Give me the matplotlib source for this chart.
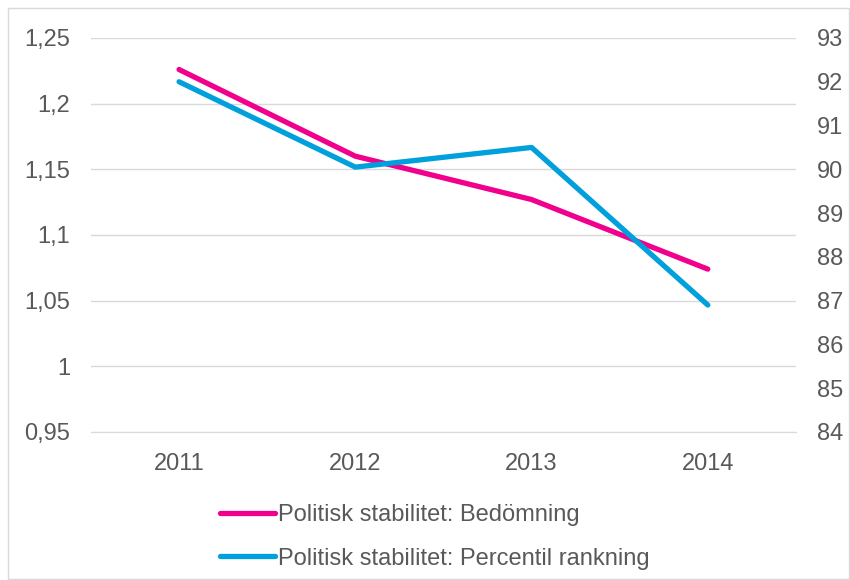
import numpy as np
import matplotlib
matplotlib.use("Agg")
import matplotlib.pyplot as plt
from matplotlib.patches import Rectangle
from matplotlib.ticker import FuncFormatter

plt.rcParams['font.family'] = ['Liberation Sans', 'DejaVu Sans']

# =========================================================
# DATA
# =========================================================
years = ["2011", "2012", "2013", "2014"]
bedomning = [1.226, 1.160, 1.127, 1.074]
percentil = [92.0, 90.05, 90.5, 86.9]
label_bed = "Politisk stabilitet: Bedömning"
label_per = "Politisk stabilitet: Percentil rankning"

PINK = "#F0008C"
BLUE = "#00A0DC"
TXT = "#595959"
GRID = "#D9D9D9"
FS = 17

# =========================================================
# FIGURE
# =========================================================
fig = plt.figure(figsize=(8.5, 5.8), dpi=100)
fig.patches.append(Rectangle((8 / 850, 1 / 580), 841 / 850, 571 / 580,
                             transform=fig.transFigure, fill=False,
                             edgecolor=GRID, linewidth=1.0))

ax = fig.add_axes([0.107, 0.2552, 0.8294, 0.6793])
ax2 = ax.twinx()

x = np.arange(len(years))
l1, = ax.plot(x, bedomning, color=PINK, lw=3.8, solid_capstyle='round',
              solid_joinstyle='round', label=label_bed, zorder=3)
l2, = ax2.plot(x, percentil, color=BLUE, lw=3.8, solid_capstyle='round',
               solid_joinstyle='round', label=label_per, zorder=3)

ax.set_xlim(-0.5, len(years) - 0.5)
ax.set_ylim(0.95, 1.25)
ax.set_yticks(np.arange(0.95, 1.2501, 0.05))
ax.yaxis.set_major_formatter(FuncFormatter(lambda v, p: f"{v:.2f}".rstrip('0').rstrip('.').replace('.', ',')))
ax2.set_ylim(84, 93)
ax2.set_yticks(np.arange(84, 94, 1))

ax.set_xticks(x)
ax.set_xticklabels(years)

ax.grid(axis='y', color=GRID, lw=1.0)
ax.set_axisbelow(True)
for a in (ax, ax2):
    for s in a.spines.values():
        s.set_visible(False)
    a.tick_params(length=0, labelsize=FS, colors=TXT)
ax.spines['bottom'].set_visible(True)
ax.spines['bottom'].set_color(GRID)
ax.tick_params(axis='y', pad=15)
ax.tick_params(axis='x', pad=15)
ax2.tick_params(axis='y', pad=15)

fig.legend(handles=[l1, l2], loc='center left', bbox_to_anchor=(0.259, 0.074),
           frameon=False, fontsize=FS, labelcolor=TXT, handlelength=2.33,
           handletextpad=0.13, labelspacing=0.9, borderaxespad=0, borderpad=0)

fig.savefig("out.png", dpi=100)
